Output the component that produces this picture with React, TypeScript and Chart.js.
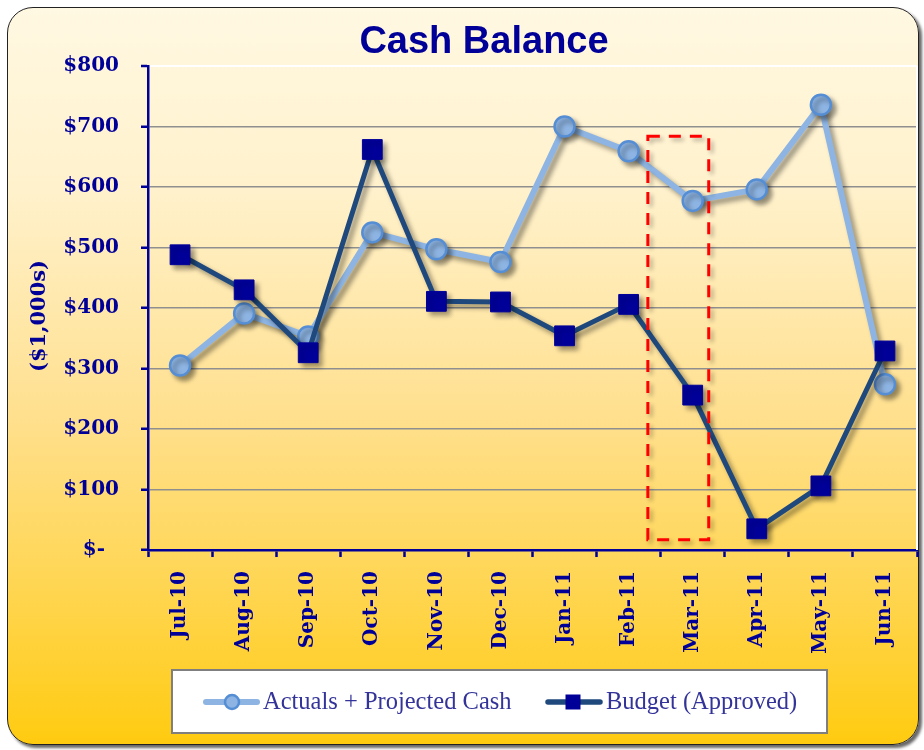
import React, { useEffect, useRef } from 'react';
import { Chart, registerables } from 'chart.js';

Chart.register(...registerables);

// ---- Data ----
const months = ['Jul-10', 'Aug-10', 'Sep-10', 'Oct-10', 'Nov-10', 'Dec-10', 'Jan-11', 'Feb-11', 'Mar-11', 'Apr-11', 'May-11', 'Jun-11'];
const actualsProjected = [305, 391, 353, 525, 497, 476, 700, 659, 577, 596, 736, 274];
const budgetApproved = [488, 430, 326, 662, 411, 410, 354, 406, 256, 35, 106, 329];
const seriesLabels = ['Actuals + Projected Cash', 'Budget (Approved)'];
const chartTitle = 'Cash Balance';
const yAxisTitle = '($1,000s)';
const yRange = [0, 800];
const yStep = 100;
// highlight box around Mar-11 (category index range, value range)
const highlightX = [7.3, 8.25];
const highlightY = [17, 684];

const NAVY = '#000099';
const LIGHT = '#8DB4E2';
const LIGHT_EDGE = '#558ED5';
const DARK_LINE = '#1F497D';

export default function App() {
  const ref = useRef<HTMLCanvasElement>(null);

  useEffect(() => {
    const canvas = ref.current!;

    const decor = {
      id: 'decor',
      beforeDatasetsDraw(chart: any) {
        const { ctx, chartArea: a } = chart;
        ctx.save();
        ctx.strokeStyle = '#ffffff';
        ctx.lineWidth = 2;
        ctx.beginPath();
        ctx.moveTo(a.right, a.top);
        ctx.lineTo(a.right, a.bottom);
        ctx.stroke();
        ctx.restore();
        ctx.save();
        ctx.shadowColor = 'rgba(0,0,0,0.4)';
        ctx.shadowOffsetX = 4;
        ctx.shadowOffsetY = 4;
        ctx.shadowBlur = 5;
      },
      afterDatasetsDraw(chart: any) {
        const { ctx } = chart;
        ctx.restore();
        const xs = chart.scales.x;
        const ys = chart.scales.y;
        const x0 = xs.getPixelForValue(highlightX[0]);
        const x1 = xs.getPixelForValue(highlightX[1]);
        const y0 = ys.getPixelForValue(highlightY[1]);
        const y1 = ys.getPixelForValue(highlightY[0]);
        ctx.save();
        ctx.shadowColor = 'rgba(0,0,0,0.3)';
        ctx.shadowOffsetX = 3;
        ctx.shadowOffsetY = 3;
        ctx.shadowBlur = 4;
        ctx.strokeStyle = '#FF0000';
        ctx.lineWidth = 3;
        ctx.setLineDash([12, 9]);
        ctx.strokeRect(x0, y0, x1 - x0, y1 - y0);
        ctx.restore();
      },
      afterDraw(chart: any) {
        const { ctx, chartArea: a } = chart;
        ctx.save();
        // chart title
        ctx.fillStyle = NAVY;
        ctx.font = 'bold 38px "Liberation Sans", Arial, sans-serif';
        ctx.textAlign = 'center';
        ctx.textBaseline = 'alphabetic';
        ctx.fillText(chartTitle, 484, 53);
        // y axis title
        ctx.save();
        ctx.translate(40, (a.top + a.bottom) / 2 + 8);
        ctx.rotate(-Math.PI / 2);
        ctx.font = 'bold 21px "DejaVu Serif", serif';
        ctx.textAlign = 'center';
        ctx.textBaseline = 'middle';
        ctx.fillText(yAxisTitle, 0, 0);
        ctx.restore();
        // legend box
        ctx.fillStyle = '#ffffff';
        ctx.fillRect(172, 670, 655, 63);
        ctx.strokeStyle = '#7f7f7f';
        ctx.lineWidth = 2;
        ctx.strokeRect(172, 670, 655, 63);
        const cy = 702;
        // item 1
        ctx.strokeStyle = LIGHT;
        ctx.lineWidth = 6;
        ctx.lineCap = 'round';
        ctx.beginPath();
        ctx.moveTo(206, cy);
        ctx.lineTo(257, cy);
        ctx.stroke();
        ctx.beginPath();
        ctx.arc(232, cy, 7, 0, Math.PI * 2);
        ctx.fillStyle = LIGHT;
        ctx.fill();
        ctx.strokeStyle = LIGHT_EDGE;
        ctx.lineWidth = 2.5;
        ctx.stroke();
        // item 2
        ctx.strokeStyle = DARK_LINE;
        ctx.lineWidth = 5.5;
        ctx.beginPath();
        ctx.moveTo(548, cy);
        ctx.lineTo(600, cy);
        ctx.stroke();
        ctx.fillStyle = NAVY;
        ctx.fillRect(573 - 7.5, cy - 7.5, 15, 15);
        // texts
        ctx.fillStyle = '#333399';
        ctx.font = '24.5px "Liberation Serif", serif';
        ctx.textBaseline = 'middle';
        ctx.textAlign = 'left';
        ctx.fillText(chart.data.datasets[0].label, 263, cy + 1);
        ctx.fillText(chart.data.datasets[1].label, 606, cy + 1);
        ctx.restore();
      },
    };

    const chart = new Chart(canvas, {
      type: 'line',
      data: {
        labels: months,
        datasets: [
          {
            label: seriesLabels[0],
            data: actualsProjected,
            borderColor: LIGHT,
            borderWidth: 6,
            borderJoinStyle: 'round',
            borderCapStyle: 'round',
            pointStyle: 'circle',
            pointRadius: 10,
            pointBackgroundColor: LIGHT,
            pointBorderColor: LIGHT_EDGE,
            pointBorderWidth: 2.5,
            tension: 0,
            order: 1,
          },
          {
            label: seriesLabels[1],
            data: budgetApproved,
            borderColor: DARK_LINE,
            borderWidth: 5,
            borderJoinStyle: 'round',
            borderCapStyle: 'round',
            pointStyle: 'rect',
            pointRadius: 14,
            pointBackgroundColor: NAVY,
            pointBorderColor: NAVY,
            pointBorderWidth: 1,
            tension: 0,
            order: 0,
          },
        ],
      },
      options: {
        responsive: false,
        animation: false,
        devicePixelRatio: 1,
        layout: { padding: { left: 14, right: 8, top: 66, bottom: 0 } },
        plugins: {
          legend: { display: false },
          tooltip: { enabled: false },
          title: { display: false },
        },
        scales: {
          x: {
            type: 'category',
            offset: true,
            grid: {
              display: true,
              drawOnChartArea: false,
              drawTicks: true,
              tickLength: 7,
              tickColor: NAVY,
              tickWidth: 2.5,
              offset: true,
            },
            border: { display: true, color: NAVY, width: 2.5 },
            ticks: {
              color: NAVY,
              font: { family: '"DejaVu Serif", serif', size: 20, weight: 'bold' },
              minRotation: 90,
              maxRotation: 90,
              autoSkip: false,
              padding: 14,
            },
            afterFit: (s: any) => {
              s.height = 200;
              s.paddingLeft = 0;
              s.paddingRight = 0;
            },
          },
          y: {
            min: yRange[0],
            max: yRange[1],
            ticks: {
              stepSize: yStep,
              color: NAVY,
              font: { family: '"DejaVu Serif", serif', size: 20, weight: 'bold' },
              padding: 22,
              callback: (v: any) => (Number(v) === 0 ? '$-  ' : '$' + v),
            },
            grid: {
              color: (c: any) => (c.tick && c.tick.value === yRange[1] ? '#ffffff' : '#8f8f8f'),
              lineWidth: (c: any) => (c.tick && c.tick.value === yRange[1] ? 2 : 1.5),
              drawTicks: true,
              tickLength: 7,
              tickColor: NAVY,
              tickWidth: 2.5,
            },
            border: { display: true, color: NAVY, width: 2.5 },
            title: { display: false, text: yAxisTitle },
            afterFit: (s: any) => {
              s.width = 134;
              s.paddingTop = 0;
              s.paddingBottom = 0;
            },
          },
        },
      },
      plugins: [decor],
    } as any);

    return () => chart.destroy();
  }, []);

  return (
    <div style={{ position: 'fixed', left: 0, top: 0, width: 924, height: 750, background: '#ffffff', overflow: 'hidden' }}>
      <div
        style={{
          position: 'absolute',
          left: 7,
          top: 7,
          width: 912,
          height: 738,
          boxSizing: 'border-box',
          borderRadius: 26,
          border: '1.5px solid #222222',
          background: 'linear-gradient(to bottom, #FFF8E2 0%, #FFF1CB 25%, #FFE08F 55%, #FFD54E 80%, #FFCB10 100%)',
          boxShadow: '3px 3px 3px rgba(0,0,0,0.6)',
        }}
      />
      <canvas
        ref={ref}
        width={932}
        height={750}
        style={{ position: 'absolute', left: 0, top: 0, width: 932, height: 750 }}
      />
    </div>
  );
}
